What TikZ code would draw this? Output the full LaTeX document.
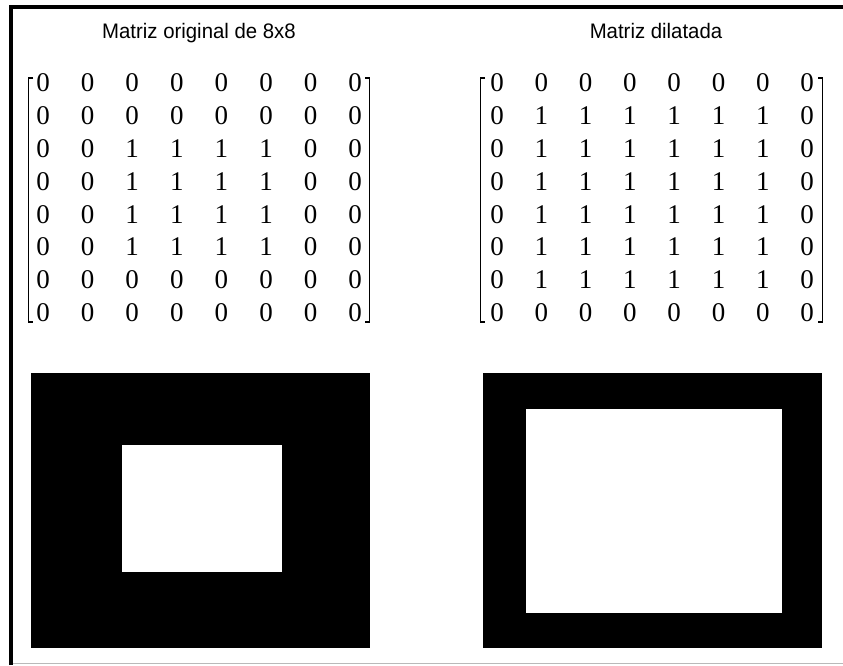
\documentclass[tikz,border=0pt]{standalone}
\usepackage{fontspec}
\newfontfamily\titlefont{Liberation Sans}
\newfontfamily\digitfont{Liberation Serif}
\begin{document}
\begin{tikzpicture}[x=1pt,y=-1pt,
  title/.style={font=\titlefont\fontsize{21}{25}\selectfont, anchor=base, inner sep=0pt, xscale=0.97},
  entry/.style={font=\digitfont\fontsize{27}{31}\selectfont, anchor=base, inner sep=0pt},
  brk/.style={line width=1.7pt, line cap=butt, line join=miter},
  frameline/.style={line width=4pt, line join=miter}]
\useasboundingbox (0,0) rectangle (843,665);
% frame
\draw[frameline] (11,665) -- (11,7) -- (843,7);
\draw[gray!55, line width=1pt] (13,663) -- (843,663);
% titles
\node[title] (t1) at (199,38) {Matriz original de 8x8};
\node[title] (t2) at (656,38) {Matriz dilatada};
% left matrix
\foreach \row [count=\r from 0] in {
  {0,0,0,0,0,0,0,0},{0,0,0,0,0,0,0,0},{0,0,1,1,1,1,0,0},{0,0,1,1,1,1,0,0},
  {0,0,1,1,1,1,0,0},{0,0,1,1,1,1,0,0},{0,0,0,0,0,0,0,0},{0,0,0,0,0,0,0,0}}{
  \foreach \v [count=\c from 0] in \row {
    \node[entry] (L\r\c) at ({43+44.6*\c},{91.7+32.83*\r}) {\v};
  }
}
% right matrix
\foreach \row [count=\r from 0] in {
  {0,0,0,0,0,0,0,0},{0,1,1,1,1,1,1,0},{0,1,1,1,1,1,1,0},{0,1,1,1,1,1,1,0},
  {0,1,1,1,1,1,1,0},{0,1,1,1,1,1,1,0},{0,1,1,1,1,1,1,0},{0,0,0,0,0,0,0,0}}{
  \foreach \v [count=\c from 0] in \row {
    \node[entry] (R\r\c) at ({497+44.3*\c},{91.7+32.83*\r}) {\v};
  }
}
% brackets
\draw[brk] (33,78) -- (28.5,78) -- (28.5,322) -- (33,322);
\draw[brk] (365,78) -- (369.5,78) -- (369.5,322) -- (365,322);
\draw[brk] (485,78) -- (480.5,78) -- (480.5,322) -- (485,322);
\draw[brk] (818,78) -- (822.5,78) -- (822.5,322) -- (818,322);
% images
\fill[black] (31,373) rectangle (370,648);
\fill[white] (122,444.5) rectangle (282,572);
\fill[black] (483,373) rectangle (822,648);
\fill[white] (526,408.5) rectangle (782,613);
\end{tikzpicture}
\end{document}
